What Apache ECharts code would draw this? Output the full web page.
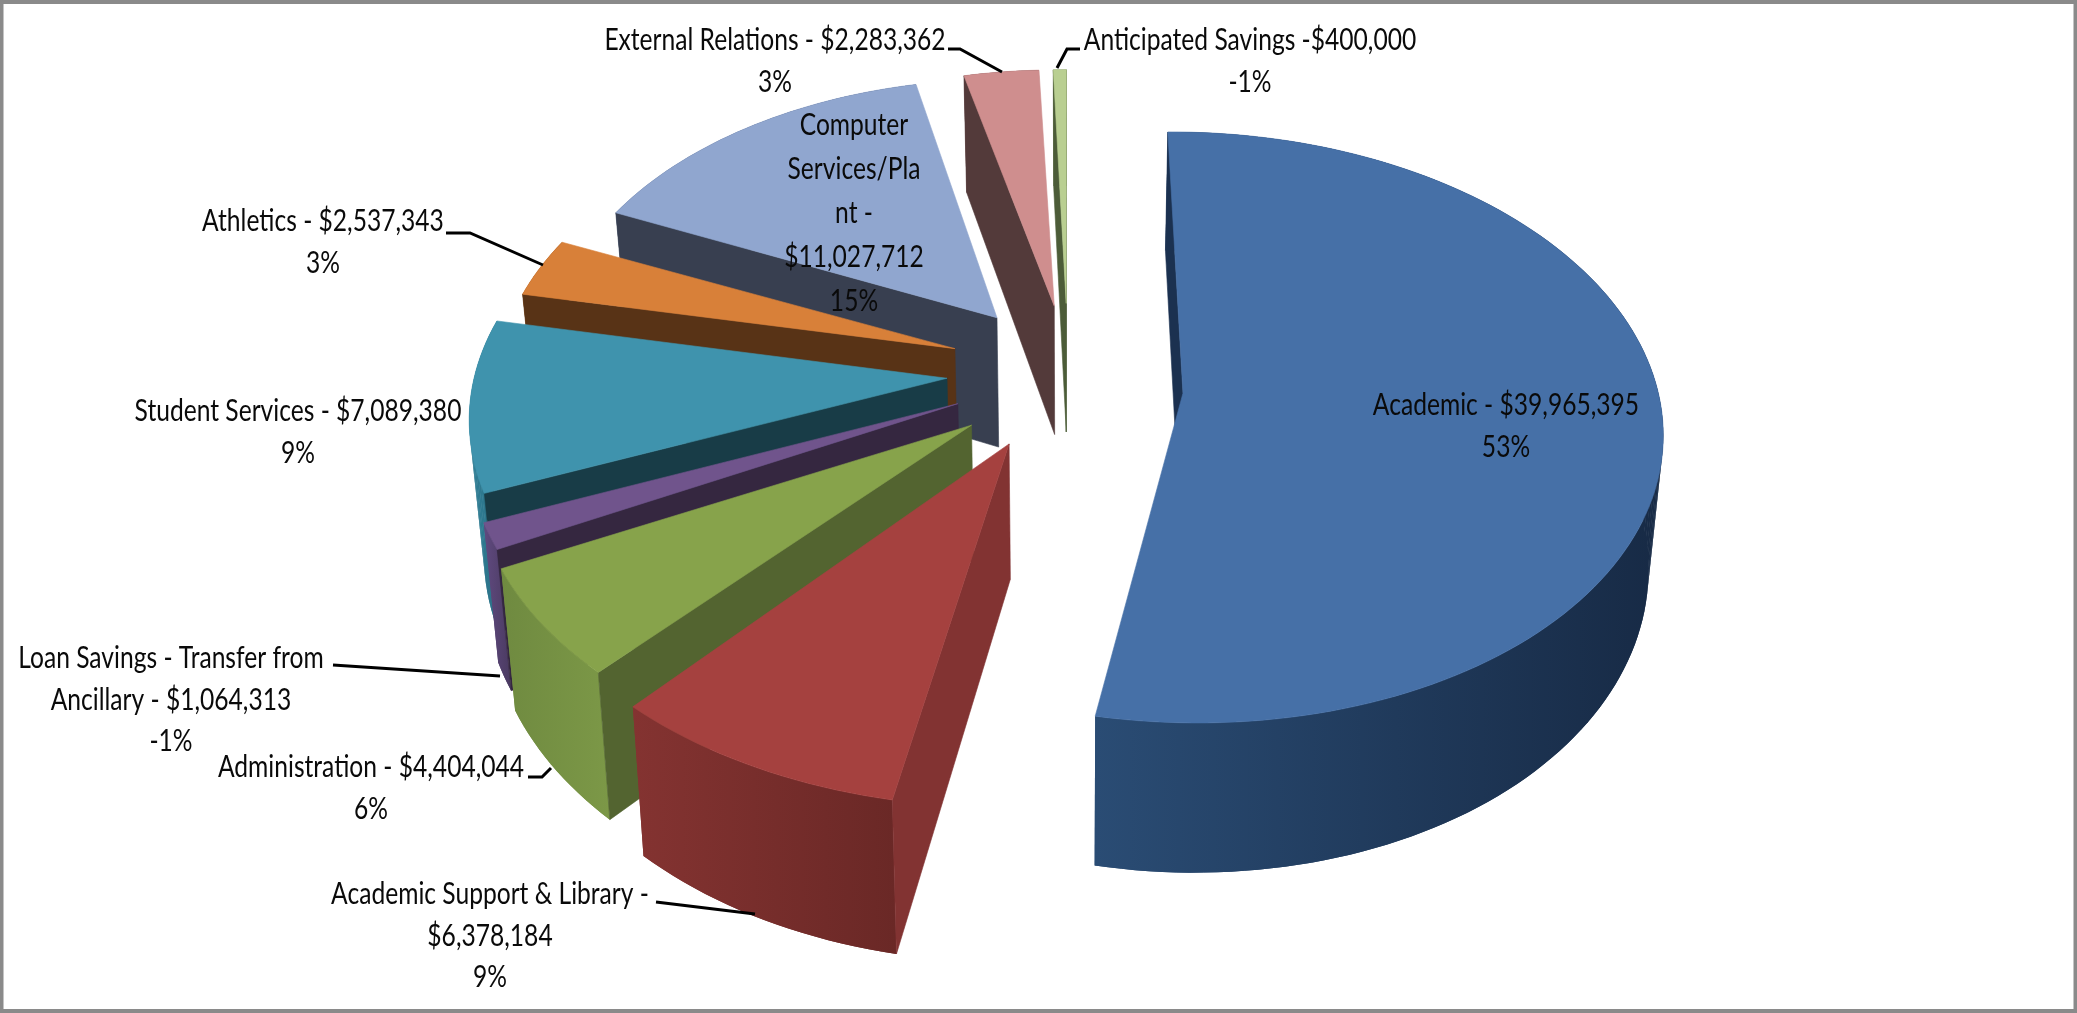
<!DOCTYPE html>
<html><head><meta charset="utf-8">
<style>html,body{margin:0;padding:0;background:#fff}#c{width:2077px;height:1013px}</style>
<script src="https://cdn.jsdelivr.net/npm/echarts@6/dist/echarts.min.js"></script>
</head><body><div id="c"></div>
<script>
// ---- data ----
const names = ['Academic','Academic Support & Library','Administration','Loan Savings - Transfer from Ancillary','Student Services','Athletics','Computer Services/Plant','External Relations','Anticipated Savings'];
const values = [39965395,6378184,4404044,-1064313,7089380,2537343,11027712,2283362,-400000];
const labels = [
 'Academic - $39,965,395\n53%',
 'Academic Support & Library -\n$6,378,184\n9%',
 'Administration - $4,404,044\n6%',
 'Loan Savings - Transfer from\nAncillary - $1,064,313\n-1%',
 'Student Services - $7,089,380\n9%',
 'Athletics - $2,537,343\n3%',
 'Computer\nServices/Pla\nnt -\n$11,027,712\n15%',
 'External Relations - $2,283,362\n3%',
 'Anticipated Savings -$400,000\n-1%'
];
// ---- styling and layout ----
const topColors  = ['#4670a7','#a5413f','#87a34b','#70548c','#3f93ad','#d88039','#90a6cf','#cf8e8e','#b9cf91'];
const wallColors = ['#1b3150','#823332','#536430','#352740','#183c47','#583316','#383f50','#533a3a','#4c5c38'];
const outerLeft  = ['#2a4c74','#843331','#6f8a40','#604a80','#2f7f96','#9a5a20','#5a6a8a','#7a5252','#6a7d50'];
const outerRight = ['#172a45','#6a2826','#7c9847','#4a3a60','#2a6a80','#7a4a18','#4a5a7a','#6a4545','#5a6d40'];
const paintRank  = [9,8,7,6,5,4,3,2,1];
const sliceRadius = [0.99,1.035,1.01,1,0.985,0.955,0.94,0.94,0.93];
const sliceTurn = [0,0,1,0,0,0,0.7,0,0.5];
const sliceNudge = [[4,3],[-10,-2],[-8,0],[-10,-9],[-12,-12],[-10,-15],[-4,-15],[0,-13],[-1,-15]];
const labelPos = [[1506,405],[490,894],[371,767],[171,658],[298,411],[323,221],[854,123],[775,40],[1250,40]];
const leaders = [null,
 [[656,902],[755,914]],
 [[528,777],[542,777],[551,768]],
 [[333,665],[500,676]],
 null,
 [[446,233],[470,233],[543,265]],
 null,
 [[948,49],[960,49],[1002,72]],
 [[1080,49],[1067,49],[1057,68]]];
const view = {cx:1069,cy:384,A:479,B:293,p:0.117,D:132,k:0.025,e:0.23,start:-0.5};

const total = values.reduce((a,v)=>a+Math.abs(v),0);
function proj(X,Y,h,i){
  const s = 1/(1+view.p*Y);
  let x = view.A*X*s, y = -view.B*Y*s + h*view.D*s;
  x *= (1-view.k*h);
  return [view.cx+x+sliceNudge[i][0], view.cy+y+sliceNudge[i][1]];
}
function renderItem(params, api){
  const i = params.dataIndex;
  let before = 0;
  for(let j=0;j<i;j++) before += Math.abs(values[j]);
  const deg = Math.PI/180;
  const a0 = (view.start + sliceTurn[i] + before/total*360)*deg;
  const a1 = a0 + Math.abs(api.value(0))/total*360*deg;
  const mid = (a0+a1)/2;
  const ox = view.e*Math.sin(mid), oy = view.e*Math.cos(mid);
  const R = sliceRadius[i];
  const n = Math.max(3,Math.ceil((a1-a0)/(1.5*deg)));
  const arc = h => { const r=[]; for(let t=0;t<=n;t++){const a=a0+(a1-a0)*t/n; r.push(proj(ox+R*Math.sin(a),oy+R*Math.cos(a),h,i));} return r; };
  const topArc = arc(0), botArc = arc(1);
  const apexT = proj(ox,oy,0,i), apexB = proj(ox,oy,1,i);
  const z = paintRank[i]*10;
  const poly = (pts,fill,dz)=>({type:'polygon',z2:z+dz,silent:true,shape:{points:pts},style:{fill:fill,stroke:fill,lineWidth:0.6}});
  const plain = (pts,fill,dz)=>({type:'polygon',z2:z+dz,silent:true,shape:{points:pts},style:{fill:fill,stroke:null,lineWidth:0}});
  const xs = topArc.concat(botArc).map(p=>p[0]);
  const outerFill = {type:'linear',global:true,x:Math.min.apply(null,xs),y:0,x2:Math.max.apply(null,xs),y2:0,
    colorStops:[{offset:0,color:outerLeft[i]},{offset:1,color:outerRight[i]}]};
  const kids = [];
  // swept outer wall: whole strip first, then its pieces so the silhouette is filled without seams
  kids.push(plain(topArc.concat(botArc.slice().reverse()),outerFill,0));
  for(let t=0;t<n;t++) kids.push(plain([topArc[t],topArc[t+1],botArc[t+1],botArc[t]],outerFill,0));
  if(topArc[0][0] < apexT[0]) kids.push(poly([apexT,topArc[0],botArc[0],apexB],wallColors[i],1));
  if(topArc[n][0] > apexT[0]) kids.push(poly([apexT,topArc[n],botArc[n],apexB],wallColors[i],1));
  kids.push(poly([apexT].concat(topArc),topColors[i],2));
  return {type:'group',children:kids};
}
const textEls = labels.map((t,i)=>({type:'text',z:10,silent:true,x:labelPos[i][0],y:labelPos[i][1]-20,scaleX:0.82,
  style:{text:t,align:'center',verticalAlign:'top',fontFamily:'Lato',fontSize:30,lineHeight:i===6?44:41.5,fill:'#0a0a0a'}}));
const lineEls = leaders.filter(Boolean).map(p=>({type:'polyline',z:9,silent:true,shape:{points:p},style:{stroke:'#000',lineWidth:3,fill:null}}));
const frame = {type:'rect',z:11,silent:true,shape:{x:1.5,y:2,width:2074,height:1009},style:{fill:null,stroke:'#8a8a8a',lineWidth:4}};

const chart = echarts.init(document.getElementById('c'),null,{renderer:'canvas'});
chart.setOption({
  animation:false,
  backgroundColor:'#fff',
  graphic:[frame].concat(lineEls,textEls),
  series:[{type:'custom',coordinateSystem:'none',renderItem:renderItem,silent:true,
    data:values.map((v,i)=>({name:names[i],value:[v]}))}]
});
</script></body></html>
